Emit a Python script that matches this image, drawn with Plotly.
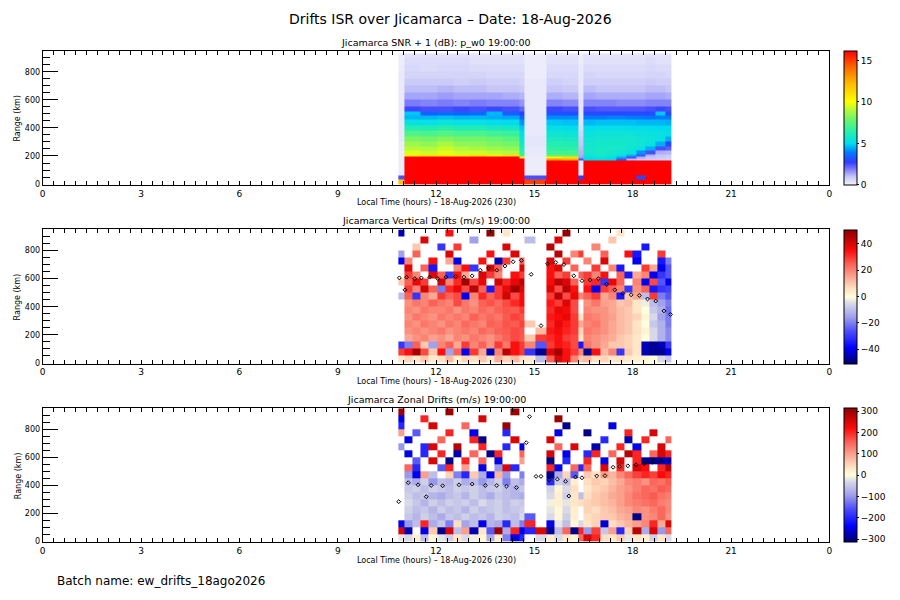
import plotly.graph_objects as go

N = None

# ---- data ----
hour_ticks = [0, 3, 6, 9, 12, 15, 18, 21, 24]
hour_labels = ["0", "3", "6", "9", "12", "15", "18", "21", "0"]
range_ticks = [0, 200, 400, 600, 800]

# SNR panel bins (local time edges, range edges in km)
snr_time_edges = [10.85, 11.03, 11.53, 12.03, 12.53, 13.03, 13.53, 14.03, 14.53, 14.70,
                  15.35, 15.85, 16.34, 16.50, 16.85, 17.20, 17.50, 17.80, 18.10, 18.40,
                  18.70, 19.00, 19.18]
snr_range_edges = [0, 30, 60, 90, 120, 150, 165, 180, 195, 210, 240, 270, 300, 340, 380,
                   420, 460, 490, 520, 550, 600, 650, 700, 750, 800, 850, 900, 930]

# rows = range bins (bottom up), cols = time bins
snr_db = [
    [12, 17, 17, 17, 17, 17, 17, 17, 17, 15, 17, 17, 17, 17, 17, 17, 17, 17, 17, 17, 17, 17],
    [2.5, 17, 17, 17, 17, 17, 17, 17, 17, 2.5, 17, 17, 2.8, 17, 17, 17, 17, 17, 3, 17, 17, 17],
    [0.2, 17, 17, 17, 17, 17, 17, 17, 17, 0.15, 17, 17, 0.2, 17, 17, 17, 17, 17, 17, 17, 17, 17],
    [0.15, 17, 17, 17, 17, 17, 17, 17, 17, 0.15, 17, 17, 0.2, 17, 17, 17, 17, 17, 17, 17, 17, 17],
    [0.15, 17, 17, 17, 17, 17, 17, 17, 17, 0.15, 17, 17, 0.2, 17, 17, 17, 17, 17, 17, 17, 17, 17],
    [0.15, 17, 17, 17, 17, 17, 17, 17, 17, 0.15, 17, 17, 0.3, 17, 17, 17, 17, 17, 17, 17, 17, 17],
    [0.15, 17, 17, 17, 17, 17, 17, 17, 17, 0.15, 13, 12.5, 2.5, 5, 5.2, 5, 2.5, 1.2, 1.0, 0.9, 0.8, 0.8],
    [0.15, 17, 17, 17, 17, 17, 17, 17, 10.5, 0.15, 10.5, 11, 1.5, 5.2, 5.4, 5.2, 4.5, 2.5, 1.3, 1.0, 0.9, 0.8],
    [0.15, 10.5, 10.8, 10.5, 10.5, 11, 10.5, 11, 7, 0.2, 7.5, 7.5, 1.3, 5.6, 5.8, 5.6, 5.2, 4.5, 2.5, 1.2, 1.0, 0.9],
    [0.15, 9.6, 9.4, 9.7, 9.4, 9.4, 9.2, 9, 6.5, 0.2, 7, 7, 1.2, 5.8, 5.9, 5.8, 5.6, 5.4, 4.2, 2.5, 1.3, 1.2],
    [0.15, 9.1, 9, 9.3, 9, 8.9, 8.7, 8.5, 6.2, 0.2, 6.6, 6.6, 1.1, 5.8, 5.9, 5.9, 5.8, 5.6, 5.4, 4.5, 2.5, 2.3],
    [0.15, 8.7, 8.5, 8.9, 8.5, 8.4, 8.2, 8, 5.8, 0.3, 6.3, 6.2, 1.0, 5.7, 5.8, 5.8, 5.8, 5.7, 5.6, 5.4, 4.5, 3],
    [0.2, 8.2, 8, 8.3, 8, 8, 7.8, 7.5, 5.5, 0.3, 6, 5.9, 0.9, 5.6, 5.7, 5.7, 5.7, 5.7, 5.6, 5.5, 5.4, 4.5],
    [0.2, 7.3, 7.2, 7.4, 7.2, 7.2, 7, 6.8, 5.2, 0.2, 5.6, 5.5, 0.7, 5.4, 5.5, 5.5, 5.5, 5.5, 5.4, 5.4, 5.3, 5.2],
    [0.2, 6.3, 6.2, 6.4, 6.2, 6.2, 6, 5.9, 4.8, 0.2, 5.2, 5.1, 0.5, 5.1, 5.2, 5.2, 5.2, 5.1, 5.1, 5.1, 5, 5],
    [0.2, 5.4, 5.3, 5.5, 5.3, 5.3, 5.2, 5.1, 4.2, 0.2, 4.8, 4.7, 0.4, 4.6, 4.7, 4.7, 4.7, 4.7, 4.6, 4.6, 4.6, 4.5],
    [0.2, 4.6, 4.6, 4.7, 4.6, 4.6, 4.5, 4.4, 3.5, 0.2, 4.1, 4.1, 0.3, 3.9, 3.9, 4, 4, 3.9, 3.9, 3.8, 3.9, 3.9],
    [0.2, 4.8, 3.5, 3.6, 3.5, 3.6, 4.6, 3.4, 2.8, 0.2, 3.2, 3.1, 0.3, 3, 3, 3, 3, 3, 3, 3, 4.8, 3],
    [0.2, 2.6, 2.5, 2.5, 2.6, 2.5, 2.6, 2.5, 2.2, 0.2, 2.6, 2.5, 0.3, 2.5, 2.4, 2.4, 2.4, 2.4, 2.4, 2.5, 2.6, 2.5],
    [0.2, 1.9, 1.8, 1.9, 1.8, 1.9, 1.8, 1.8, 1.6, 0.2, 1.8, 1.7, 0.3, 1.8, 1.8, 1.8, 1.7, 1.7, 1.7, 1.8, 1.8, 1.8],
    [0.2, 1.4, 1.4, 1.5, 1.4, 1.4, 1.4, 1.3, 1.2, 0.2, 1.3, 1.2, 0.3, 1.4, 1.3, 1.3, 1.3, 1.3, 1.3, 1.4, 1.4, 1.3],
    [0.2, 1.1, 1.1, 1.2, 1.1, 1.1, 1.0, 1.0, 0.9, 0.2, 1.0, 0.9, 0.2, 1.1, 1.0, 1.0, 1.0, 1.0, 1.0, 1.1, 1.1, 1.0],
    [0.2, 0.9, 0.9, 0.9, 0.8, 0.9, 0.8, 0.8, 0.7, 0.2, 0.8, 0.7, 0.2, 0.8, 0.8, 0.8, 0.8, 0.8, 0.8, 0.9, 0.8, 0.8],
    [0.2, 0.7, 0.7, 0.7, 0.7, 0.7, 0.6, 0.6, 0.6, 0.15, 0.6, 0.6, 0.2, 0.7, 0.6, 0.6, 0.6, 0.6, 0.6, 0.7, 0.7, 0.6],
    [0.15, 0.6, 0.5, 0.6, 0.6, 0.5, 0.5, 0.5, 0.5, 0.15, 0.5, 0.5, 0.2, 0.5, 0.5, 0.5, 0.5, 0.5, 0.5, 0.6, 0.5, 0.5],
    [0.15, 0.5, 0.5, 0.5, 0.5, 0.4, 0.4, 0.4, 0.4, 0.15, 0.4, 0.4, 0.15, 0.4, 0.4, 0.4, 0.4, 0.4, 0.4, 0.5, 0.4, 0.4],
    [0.15, 0.4, 0.4, 0.4, 0.4, 0.35, 0.35, 0.35, 0.35, 0.15, 0.35, 0.35, 0.15, 0.35, 0.35, 0.35, 0.35, 0.35, 0.35, 0.4, 0.35, 0.35],
]

# drift panels bins
drift_time_edges = [10.85, 11.03, 11.28, 11.53, 11.78, 12.03, 12.28, 12.53, 12.78, 13.03,
                    13.28, 13.53, 13.78, 14.03, 14.28, 14.53, 14.70, 15.02, 15.35, 15.60,
                    15.85, 16.10, 16.34, 16.50, 16.75, 17.00, 17.25, 17.50, 17.75, 18.00,
                    18.25, 18.50, 18.75, 19.00, 19.18]
drift_range_edges = [0, 50, 100, 150, 200, 250, 300, 350, 400, 450, 500, 550, 600, 650,
                     700, 750, 800, 850, 900, 950]

# vertical drifts (m/s)
vert_drift = [
    [5, 8, 5, 10, 4, 6, 12, 3, 8, 6, 10, 5, 14, 8, 12, 6, 4, -10, 25, 40, 35, 20, 10, 12, 6, 8, 5, 6, 4, 3, 2, 0, -5, -8],
    [30, 35, 48, 28, 10, 35, -15, 25, -40, 30, 15, -45, 20, 45, 35, 30, -30, -48, 40, 48, 35, 30, 20, -48, 35, 12, 20, -30, 10, 5, -45, -48, -48, -40],
    [-30, -20, 25, 10, -15, 20, 25, 15, 30, 20, 25, 18, 30, 22, 35, 30, 20, -25, 30, 35, 33, 28, -35, 22, 18, 15, 10, 10, 8, 5, -45, -48, -45, -30],
    [N, 15, 18, 20, 16, 18, 15, 20, 18, 22, 20, 18, 22, 25, 28, 26, 10, 30, 32, 35, 30, 28, 5, 20, 18, 16, 14, 10, 8, 5, 0, -5, -12, -18],
    [N, 18, 20, 18, 20, 22, 18, 20, 22, 20, 24, 22, 25, 26, 28, 27, N, 12, 34, 36, 33, 30, 8, 22, 20, 18, 15, 12, 10, 6, 2, -5, -12, -18],
    [N, 20, 18, 22, 20, 18, 22, 20, 24, 22, 20, 25, 24, 27, 26, 29, 10, N, 32, 38, 34, 30, 15, 20, 22, 18, 15, 12, 10, 5, 0, -8, -12, -20],
    [N, 18, 22, 20, 18, 22, 20, 22, 20, 25, 22, 24, 22, 26, 29, 27, N, N, 34, 36, 38, 30, 5, 22, 20, 18, 16, 12, 10, 8, 2, -5, -15, -20],
    [N, 20, 18, 22, 20, 20, 22, 18, 22, 20, 24, 22, 25, 27, 26, 30, N, N, 32, 38, 36, 28, N, 20, 18, 18, 15, 12, 10, 5, 0, -8, -12, -22],
    [N, 18, 22, 20, 25, 22, 20, 28, 22, 18, 25, 27, 24, 28, 32, 36, N, N, 34, 30, 40, 28, N, 18, 22, 16, 15, 10, 12, 5, -2, -10, -15, -20],
    [-10, 25, -30, 20, 15, 30, 25, 28, -40, 20, 32, 25, 30, 42, 28, 36, N, N, 30, 45, 28, 38, 20, 25, 30, 15, 20, -35, 10, 15, -10, 30, -20, -25],
    [N, 30, 20, 42, 25, -20, 32, 38, 28, 45, 25, -35, 30, 38, 48, 40, N, N, 40, 28, 45, 35, N, 35, -40, 30, 25, 20, -30, 18, 25, -35, -30, -28],
    [10, 25, 38, 30, N, 42, 20, 32, 48, 28, 38, N, 42, 32, 38, 45, N, N, 36, 45, 40, 25, N, 30, 32, -30, 38, 25, N, 20, -40, 28, -25, -40],
    [N, 30, 20, N, 40, 25, -30, 35, 15, N, 40, 30, 20, N, 35, 30, N, N, 35, 25, 30, N, 25, 30, 20, 35, N, 25, -35, 15, 20, -40, -30, -25],
    [N, 40, N, 25, -35, N, N, 20, 35, -30, N, 40, 25, N, N, 40, N, N, 35, 40, N, 25, N, N, 30, N, 20, -35, N, N, 30, 15, -40, -25],
    [-40, 20, N, N, 35, N, 15, -40, N, N, 35, N, -45, 30, N, 25, N, N, 40, N, 30, N, N, 20, N, 40, N, N, N, -40, N, N, -35, -20],
    [-15, N, 25, N, N, N, 40, N, N, N, N, 35, N, N, 40, N, N, N, N, 45, N, 20, 30, N, N, 25, N, N, 35, -35, N, N, 30, N],
    [N, N, 10, N, N, -30, N, 30, N, N, N, N, N, 40, N, N, N, N, 45, N, N, N, N, N, 20, N, N, N, N, N, -35, N, N, N],
    [N, N, N, 40, N, N, N, N, N, -15, N, N, N, N, N, N, -10, N, N, 40, N, N, N, N, N, N, 10, N, N, N, N, N, N, N],
    [-45, N, N, N, N, N, 35, N, N, N, N, 50, N, 5, N, N, N, N, N, N, 50, N, N, N, N, N, N, 5, N, N, N, N, N, N],
]

# zonal drifts (m/s)
zonal_drift = [
    [-20, -30, 20, -60, 10, -20, -40, 30, -30, -10, 10, -80, 20, -120, -250, -200, N, -30, 20, -30, 30, 10, 150, 250, 200, 40, 30, 60, -20, 30, 20, -40, 30, -30],
    [250, -280, N, -250, 60, -300, 250, -60, 100, -280, 30, -150, 300, -80, 200, -250, -200, 250, -290, -60, 150, -300, 200, -100, 180, -50, 100, -200, 50, 280, -80, 250, -100, 150],
    [-250, -100, -60, 200, -80, -50, -120, 40, -90, -60, -250, -70, -80, -200, -60, -120, 200, N, -250, -20, -60, 10, -30, 30, 50, -260, 40, 60, 80, 100, 120, 200, 90, 250],
    [N, -50, -70, -40, -60, -80, -50, -60, -40, -60, -50, -70, -40, -50, -60, -30, -150, N, -30, 10, -40, 20, N, 40, 50, 60, 60, 80, 90, -300, 110, 120, 150, 110],
    [N, -40, -60, -50, -70, -40, -60, -50, -70, -40, -60, -50, -40, -60, -50, -40, N, N, -20, 10, -30, 20, N, 50, 40, 60, 70, 90, 100, 120, 110, 130, 150, 120],
    [N, -30, -50, -70, -40, -60, -40, -50, -40, -60, -30, -50, -40, -60, -40, -50, N, N, -10, 20, -20, 30, 40, 50, 60, 70, 80, 100, 120, 130, 140, 150, 130, 120],
    [N, -40, -60, -50, -70, -80, -60, -50, -70, -40, -60, -80, -50, -60, -70, -80, N, N, -30, 20, -40, 30, -60, 40, 60, 70, 90, 100, 120, 140, 150, 160, 140, 130],
    [N, -50, -40, -60, -40, -50, -60, -40, -50, -40, -60, -50, -40, -60, -70, -50, N, N, -40, 10, -30, 40, N, 30, 50, 60, 80, 100, 110, 130, 150, 140, 160, 150],
    [N, -60, -80, -40, -100, -60, -70, -40, -80, -60, -100, -70, -40, -120, -60, -80, N, N, -200, -40, -60, 20, N, 40, 60, 50, 70, 90, 120, 130, 110, 150, 140, 160],
    [N, -100, -250, 100, -60, N, 50, -120, -200, 60, -80, -250, 80, -100, N, -120, N, N, -300, -80, 50, -150, N, 60, 40, 100, 80, 120, 150, 180, 200, 180, 220, 200],
    [N, 150, -200, N, N, -150, 200, N, 100, N, -250, N, -100, 250, -200, N, N, N, 200, -250, N, 150, -200, 150, N, 250, N, 200, N, 250, 220, N, 200, 280],
    [N, N, -150, N, 250, N, -300, N, 200, N, 150, N, -250, N, N, 100, N, N, -300, N, -200, N, N, 200, N, -250, N, 250, N, 200, -300, -300, -280, -250],
    [N, -250, N, -200, N, 200, N, -280, N, 150, N, -300, 200, N, N, 150, N, N, 250, N, -250, N, N, -200, 200, N, 150, N, 280, 200, N, 150, 250, 200],
    [-100, N, N, -200, 250, N, N, 280, N, N, 200, N, N, -200, N, -250, N, N, N, 150, N, 250, N, N, -280, N, N, 200, N, -250, N, N, 250, N],
    [N, -250, N, N, N, 150, N, N, N, 200, -300, N, N, N, 250, N, N, N, 250, N, N, N, N, N, N, -200, N, N, -280, N, 200, N, N, 150],
    [100, N, -150, N, N, N, 200, N, N, -250, N, N, N, -200, N, N, N, N, N, -250, N, N, N, -300, N, N, N, N, 200, N, N, 250, N, N],
    [-200, N, N, N, 250, N, N, N, 150, N, N, N, N, 300, N, N, N, N, N, N, -300, N, N, N, N, N, -250, N, N, N, N, N, N, N],
    [-250, N, N, 200, N, N, N, N, N, N, 250, N, N, N, N, N, N, N, N, 300, N, N, N, N, N, N, N, N, N, N, N, N, N, N],
    [300, N, N, N, N, N, 300, N, N, N, N, N, N, N, 300, N, N, N, N, N, N, N, N, N, N, N, N, N, N, N, N, N, N, N],
]

# black dotted markers
vz_dot_time = [10.88, 11.05, 11.1, 11.35, 11.55, 11.8, 12.05, 12.3, 12.6, 12.85, 13.1, 13.35,
               13.6, 13.85, 14.1, 14.35, 14.6, 14.9, 15.2, 15.4, 15.65, 15.9, 16.2, 16.45,
               16.7, 16.95, 17.2, 17.45, 17.7, 17.95, 18.2, 18.45, 18.7, 18.95, 19.15]
vz_dot_range = [605, 520, 610, 600, 605, 610, 600, 610, 615, 610, 620, 660, 675, 660, 690,
                720, 730, 630, 265, 705, 715, 700, 620, 585, 590, 600, 560, 520, 495, 485,
                480, 455, 440, 370, 345]
zr_dot_time = [10.86, 11.15, 11.45, 11.7, 11.85, 12.2, 12.7, 13.1, 13.5, 13.85, 14.15, 14.45,
               14.75, 14.85, 15.05, 15.2, 15.45, 15.7, 15.95, 16.05, 16.25, 16.45, 16.9,
               17.15, 17.4, 17.6, 17.85, 18.1, 18.35, 18.6, 18.85, 19.1, 11.05, 11.2]
zr_dot_range = [285, 420, 405, 320, 400, 398, 405, 410, 400, 400, 395, 385, 705, 890, 465,
                465, 440, 445, 430, 325, 460, 455, 468, 470, 530, 535, 540, 548, 555, 565,
                575, 580, -75, -75]

# ---- styling ----
FONT = "DejaVu Sans"
W, H = 900, 600
X0, X1 = 40, 832
PANELS = [(51, 186), (231, 366), (411, 546)]


def px(x):
    return x / W


def py(y):
    return 1 - y / H


snr_scale = [
    [0.0, 'rgb(242,242,252)'], [0.06, 'rgb(200,200,248)'], [0.12, 'rgb(120,120,250)'],
    [0.17, 'rgb(50,60,255)'], [0.24, 'rgb(0,120,255)'], [0.31, 'rgb(0,220,240)'],
    [0.40, 'rgb(40,240,170)'], [0.50, 'rgb(120,245,100)'], [0.56, 'rgb(180,250,60)'],
    [0.62, 'rgb(255,255,0)'], [0.75, 'rgb(255,190,0)'], [0.87, 'rgb(255,110,0)'],
    [1.0, 'rgb(255,0,0)'],
]
drift_scale = [
    [0.0, 'rgb(0,0,110)'], [0.12, 'rgb(0,0,255)'], [0.25, 'rgb(80,80,250)'],
    [0.35, 'rgb(160,160,235)'], [0.45, 'rgb(215,215,232)'], [0.5, 'rgb(255,255,220)'],
    [0.56, 'rgb(255,225,195)'], [0.65, 'rgb(250,165,145)'], [0.75, 'rgb(250,95,85)'],
    [0.85, 'rgb(250,10,10)'], [1.0, 'rgb(140,0,0)'],
]


def cbar(i, tickvals):
    top, bot = PANELS[i]
    return dict(x=px(847), xanchor='left', y=(py(top) + py(bot)) / 2, yanchor='middle',
                len=(bot - top) / H, lenmode='fraction', thickness=13, thicknessmode='pixels',
                outlinecolor='black', outlinewidth=1, ticks='outside', ticklen=2,
                tickcolor='black', tickvals=tickvals, xpad=0, ypad=0,
                tickfont=dict(family=FONT, size=9, color='black'))


fig = go.Figure()
fig.add_trace(go.Heatmap(x=snr_time_edges, y=snr_range_edges, z=snr_db, zmin=0, zmax=16.2,
                         colorscale=snr_scale, colorbar=cbar(0, [0, 5, 10, 15]),
                         xaxis='x', yaxis='y', hoverinfo='skip'))
fig.add_trace(go.Heatmap(x=drift_time_edges, y=drift_range_edges, z=vert_drift, zmin=-51, zmax=51,
                         colorscale=drift_scale, colorbar=cbar(1, [-40, -20, 0, 20, 40]),
                         xaxis='x2', yaxis='y2', hoverinfo='skip'))
fig.add_trace(go.Heatmap(x=drift_time_edges, y=drift_range_edges, z=zonal_drift, zmin=-314, zmax=314,
                         colorscale=drift_scale,
                         colorbar=cbar(2, [-300, -200, -100, 0, 100, 200, 300]),
                         xaxis='x3', yaxis='y3', hoverinfo='skip'))
dot = dict(symbol='diamond-open', size=3, color='black', line=dict(width=1, color='black'))
fig.add_trace(go.Scatter(x=vz_dot_time, y=vz_dot_range, mode='markers', marker=dot,
                         xaxis='x2', yaxis='y2', showlegend=False, hoverinfo='skip'))
fig.add_trace(go.Scatter(x=zr_dot_time, y=zr_dot_range, mode='markers', marker=dot,
                         xaxis='x3', yaxis='y3', showlegend=False, hoverinfo='skip',
                         cliponaxis=False))

tickfont = dict(family=FONT, size=9, color='black')
layout = dict(width=W, height=H, margin=dict(l=0, r=0, t=0, b=0),
              paper_bgcolor='white', plot_bgcolor='white', showlegend=False,
              font=dict(family=FONT, color='black'))

for i, (top, bot) in enumerate(PANELS):
    n = '' if i == 0 else str(i + 1)
    layout['xaxis' + n] = dict(
        domain=[px(X0), px(X1)], anchor='y' + n, range=[0, 24],
        tickmode='array', tickvals=hour_ticks, ticktext=hour_labels,
        ticks='inside', ticklen=4, tickcolor='black',
        minor=dict(tickmode='linear', tick0=0, dtick=1 / 3, ticks='inside', ticklen=4,
                   tickcolor='black'),
        showline=True, linecolor='black', linewidth=1, mirror='ticks',
        showgrid=False, zeroline=False, tickfont=tickfont)
    layout['yaxis' + n] = dict(
        domain=[py(bot), py(top)], anchor='x' + n, range=[-5, 950],
        tickmode='array', tickvals=range_ticks,
        ticks='inside', ticklen=15, tickcolor='black',
        minor=dict(tickmode='linear', tick0=0, dtick=50, ticks='inside', ticklen=7,
                   tickcolor='black'),
        showline=True, linecolor='black', linewidth=1, mirror=True,
        showgrid=False, zeroline=False, tickfont=dict(family=FONT, size=8, color='black'))

# right-hand velocity scales on the drift panels
layout['yaxis4'] = dict(overlaying='y2', anchor='x2', side='right', range=[-51, 51],
                        tick0=0, dtick=20, ticks='inside', ticklen=15, tickcolor='black',
                        minor=dict(dtick=5, ticks='inside', ticklen=7, tickcolor='black'),
                        showticklabels=False, showgrid=False, zeroline=False, showline=False)
layout['yaxis5'] = dict(overlaying='y3', anchor='x3', side='right', range=[-314, 314],
                        tick0=0, dtick=100, ticks='inside', ticklen=15, tickcolor='black',
                        minor=dict(dtick=10, ticks='inside', ticklen=7, tickcolor='black'),
                        showticklabels=False, showgrid=False, zeroline=False, showline=False)
fig.update_layout(**layout)

panel_titles = ["Jicamarca SNR + 1 (dB): p_w0 19:00:00",
                "Jicamarca Vertical Drifts (m/s) 19:00:00",
                "Jicamarca Zonal Drifts (m/s) 19:00:00"]
xcenter = px((X0 + X1) / 2)
ann = [dict(text="Drifts ISR over Jicamarca \u2013 Date: 18-Aug-2026", x=0.5, y=py(19),
            xanchor='center', yanchor='middle', font=dict(size=14)),
       dict(text="Batch name: ew_drifts_18ago2026", x=px(52), y=py(585),
            xanchor='left', yanchor='middle', font=dict(size=12))]
for i, (top, bot) in enumerate(PANELS):
    ann.append(dict(text=panel_titles[i], x=xcenter, y=py(top - 1), xanchor='center',
                    yanchor='bottom', font=dict(size=9.5)))
    ann.append(dict(text="Local Time (hours) \u2013 18-Aug-2026 (230)", x=xcenter,
                    y=py(bot + 18), xanchor='center', yanchor='middle', font=dict(size=8)))
    ann.append(dict(text="Range (km)", x=px(15), y=py((top + bot) / 2), textangle=-90,
                    xanchor='center', yanchor='middle', font=dict(size=8)))
for a in ann:
    a.update(xref='paper', yref='paper', showarrow=False)
fig.update_layout(annotations=ann)

# drop the default page margin so the figure sits at the window origin
fig.write_html("out.html", config={'displayModeBar': False},
               post_script="document.body.style.margin='0';document.body.style.overflow='hidden';")
